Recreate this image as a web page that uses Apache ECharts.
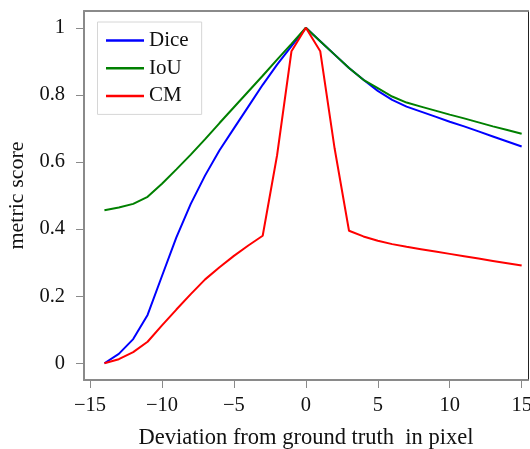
<!DOCTYPE html>
<html>
<head>
<meta charset="utf-8">
<script src="https://cdn.jsdelivr.net/npm/echarts@6/dist/echarts.min.js"></script>
<style>
  html, body { margin: 0; padding: 0; background: #fff; }
  #chart { width: 530px; height: 449px; }
</style>
</head>
<body>
<div id="chart"></div>
<script>
// Pixel deviation from the ground truth
const deviations = [-14, -13, -12, -11, -10, -9, -8, -7, -6, -5, -4, -3, -2, -1, 0,
  1, 2, 3, 4, 5, 6, 7, 8, 9, 10, 11, 12, 13, 14, 15];

// Metric scores at each deviation
const dice = [0, 0.028, 0.072, 0.144, 0.26, 0.375, 0.475, 0.56, 0.635, 0.70, 0.765, 0.83, 0.89, 0.945, 1,
  0.96, 0.92, 0.88, 0.845, 0.812, 0.785, 0.765, 0.75, 0.735, 0.72, 0.706, 0.691, 0.676, 0.661, 0.646];
const iou = [0.456, 0.464, 0.475, 0.496, 0.535, 0.578, 0.622, 0.668, 0.716, 0.763, 0.81, 0.857, 0.905, 0.952, 1,
  0.96, 0.92, 0.88, 0.845, 0.82, 0.795, 0.777, 0.765, 0.753, 0.741, 0.73, 0.718, 0.706, 0.695, 0.684];
const cm = [0, 0.012, 0.033, 0.064, 0.113, 0.16, 0.206, 0.25, 0.286, 0.32, 0.351, 0.38, 0.62, 0.93, 1,
  0.93, 0.64, 0.395, 0.378, 0.365, 0.355, 0.347, 0.34, 0.333, 0.326, 0.319, 0.312, 0.305, 0.298, 0.291];

// Tick positions
const xTicks = [-15, -10, -5, 0, 5, 10, 15];
const yTicks = [0, 0.2, 0.4, 0.6, 0.8, 1];

const font = 'Liberation Serif';
const axisGray = '#8a8a8a';

function pairs(values) {
  return deviations.map((d, i) => [d, values[i]]);
}

function fmtX(v) {
  return v < 0 ? '\u2212' + Math.abs(v) : String(v);
}

const chart = echarts.init(document.getElementById('chart'), null, { renderer: 'canvas' });

chart.setOption({
  animation: false,
  backgroundColor: '#fff',
  grid: { left: 84, right: 2, top: 11, bottom: 69, containLabel: false, outerBoundsMode: 'none' },
  legend: {
    orient: 'vertical',
    left: 97.5,
    top: 22,
    padding: [8, 13, 8, 8.5],
    backgroundColor: '#fff',
    borderColor: '#d6d6d6',
    borderWidth: 1,
    icon: 'rect',
    itemWidth: 38,
    itemHeight: 2.5,
    itemGap: 6.7,
    textStyle: { fontFamily: font, fontSize: 21, color: '#111', lineHeight: 20 },
    data: ['Dice', 'IoU', 'CM']
  },
  xAxis: [
    {
      type: 'value',
      min: -15.42,
      max: 15.44,
      name: 'Deviation from ground truth  in pixel',
      nameLocation: 'middle',
      nameGap: 47,
      nameTextStyle: { fontFamily: font, fontSize: 22.5, color: '#111' },
      splitLine: { show: false },
      axisLine: { show: true, onZero: false, lineStyle: { color: axisGray, width: 2 } },
      axisTick: { show: true, inside: false, length: 8, customValues: xTicks, lineStyle: { color: axisGray, width: 1 } },
      axisLabel: {
        customValues: xTicks,
        margin: 15,
        fontFamily: font, fontSize: 20.5, color: '#111',
        formatter: fmtX
      }
    },
    {
      type: 'value',
      position: 'top',
      min: -15.42,
      max: 15.44,
      splitLine: { show: false },
      axisLine: { show: true, onZero: false, lineStyle: { color: axisGray, width: 2 } },
      axisTick: { show: false },
      axisLabel: { show: false }
    }
  ],
  yAxis: [
    {
      type: 'value',
      min: -0.05,
      max: 1.05,
      name: 'metric score',
      nameLocation: 'middle',
      nameGap: 51,
      nameTextStyle: { fontFamily: font, fontSize: 22, color: '#111' },
      splitLine: { show: false },
      axisLine: { show: true, onZero: false, lineStyle: { color: axisGray, width: 2 } },
      axisTick: { show: true, inside: false, length: 8, customValues: yTicks, lineStyle: { color: axisGray, width: 1 } },
      axisLabel: {
        customValues: yTicks,
        margin: 19,
        fontFamily: font, fontSize: 20.5, color: '#111',
        formatter: v => String(Math.round(v * 10) / 10)
      }
    },
    {
      type: 'value',
      position: 'right',
      min: -0.05,
      max: 1.05,
      splitLine: { show: false },
      axisLine: { show: true, onZero: false, lineStyle: { color: '#222', width: 1 } },
      axisTick: { show: false },
      axisLabel: { show: false }
    }
  ],
  series: [
    {
      name: 'Dice', type: 'line', data: pairs(dice),
      showSymbol: false, symbol: 'none',
      lineStyle: { color: '#0000ff', width: 2 }, itemStyle: { color: '#0000ff' }
    },
    {
      name: 'IoU', type: 'line', data: pairs(iou),
      showSymbol: false, symbol: 'none',
      lineStyle: { color: '#008000', width: 2 }, itemStyle: { color: '#008000' }
    },
    {
      name: 'CM', type: 'line', data: pairs(cm),
      showSymbol: false, symbol: 'none',
      lineStyle: { color: '#ff0000', width: 2 }, itemStyle: { color: '#ff0000' }
    }
  ]
});
</script>
</body>
</html>
